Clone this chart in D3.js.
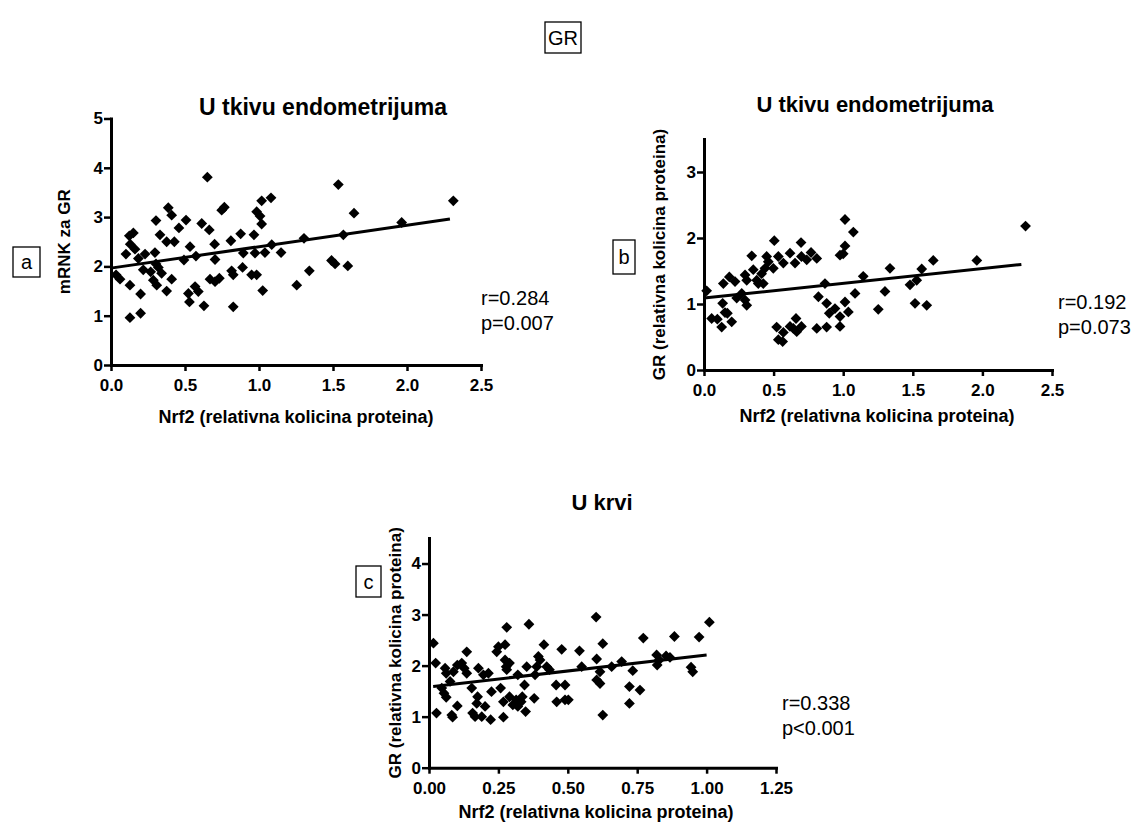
<!DOCTYPE html>
<html>
<head>
<meta charset="utf-8">
<script src="https://cdn.jsdelivr.net/npm/d3@7/dist/d3.min.js"></script>
<style>
  html, body { margin: 0; padding: 0; background: #fff; }
  svg { display: block; }
  text { font-family: "Liberation Sans", Arial, sans-serif; fill: #000; }
</style>
</head>
<body>
<svg id="fig" width="1140" height="823"></svg>
<script>
// Panel a: endometrial tissue, Nrf2 protein vs GR mRNA
const aX = [0.124,0.151,0.304,0.331,0.387,0.41,0.459,0.507,0.376,0.428,0.651,0.613,0.664,0.70,0.748,0.766,0.81,0.876,0.966,0.984,1.007,1.018,1.018,1.081,1.086,0.534,0.13,1.536,1.642,2.313,1.964,1.304,1.57,
  0.034,0.061,0.101,0.162,0.185,0.23,0.297,0.304,0.218,0.268,0.32,0.342,0.286,0.309,0.41,0.376,0.128,0.2,0.128,0.2,0.493,0.574,0.523,0.53,0.568,0.59,0.628,0.703,0.669,0.703,0.732,0.815,0.826,0.826,0.889,0.894,0.95,0.984,0.973,1.025,1.04,1.149,1.255,1.34,1.49,1.514,1.60];
const aY = [2.62,2.68,2.93,2.64,3.19,3.04,2.78,2.94,2.50,2.50,3.81,2.87,2.74,2.45,3.14,3.20,2.52,2.66,2.64,3.11,3.02,2.86,3.33,3.39,2.44,2.40,2.45,3.66,3.08,3.33,2.89,2.57,2.64,
  1.83,1.74,2.25,2.35,2.16,2.25,2.28,2.05,1.93,1.89,1.98,1.86,1.72,1.62,1.74,1.50,1.62,1.44,0.96,1.05,2.13,2.21,1.45,1.28,1.59,1.49,1.20,2.14,1.74,1.69,1.76,1.91,1.83,1.18,1.98,2.27,1.83,1.83,2.27,1.51,2.28,2.28,1.62,1.91,2.12,2.05,2.01];
const aFitX = [0.01, 2.29];
const aFitY = [1.97, 2.96];

// Panel b: endometrial tissue, Nrf2 protein vs GR protein
const bX = [0.343,0.505,0.697,0.618,0.769,0.534,0.45,0.019,0.139,0.182,0.223,0.295,0.307,0.354,0.379,0.39,0.426,0.414,0.438,0.462,0.498,0.57,0.654,0.70,0.738,0.81,
  0.235,0.271,0.295,0.307,0.055,0.096,0.134,0.151,0.127,0.168,0.199,0.522,0.534,0.565,0.57,0.618,0.661,0.666,0.70,0.642,0.81,0.881,0.822,0.881,0.869,
  0.977,1.0,1.144,1.336,1.564,1.647,1.96,1.48,1.528,1.30,1.085,1.013,0.90,0.941,0.977,1.037,0.977,1.252,1.516,1.60,1.013,1.073,1.013,2.31];
const bY = [1.73,1.96,1.93,1.77,1.78,1.72,1.72,1.20,1.31,1.41,1.34,1.44,1.36,1.52,1.36,1.31,1.31,1.46,1.54,1.64,1.54,1.62,1.62,1.72,1.67,1.69,
  1.09,1.16,1.06,0.98,0.78,0.77,1.01,0.87,0.65,0.86,0.73,0.65,0.46,0.43,0.57,0.66,0.78,0.58,0.66,0.63,0.63,0.65,1.11,1.01,1.31,
  1.74,1.76,1.42,1.54,1.53,1.66,1.66,1.29,1.36,1.19,1.16,1.03,0.86,0.93,0.81,0.88,0.66,0.92,1.01,0.98,2.28,2.09,1.88,2.18];
const bFitX = [0.0, 2.28];
const bFitY = [1.09, 1.60];

// Panel c: blood, Nrf2 protein vs GR protein
const cX = [0.28,0.36,0.602,1.01,0.772,0.884,0.973,0.016,0.024,0.027,0.058,0.062,0.046,0.054,0.062,0.076,0.082,0.085,0.088,0.102,0.102,0.118,0.127,0.136,0.136,
  0.154,0.157,0.166,0.175,0.172,0.178,0.19,0.196,0.202,0.214,0.222,0.225,0.244,0.25,0.258,0.268,0.268,0.274,0.274,0.278,0.29,0.28,0.29,0.302,0.314,0.32,0.332,0.336,
  0.344,0.348,0.32,0.352,0.379,0.382,0.388,0.394,0.40,0.414,0.424,0.434,0.458,0.46,0.478,0.49,0.49,0.502,0.542,0.55,0.604,0.626,0.616,0.604,0.616,0.626,
  0.658,0.694,0.722,0.722,0.734,0.76,0.82,0.822,0.829,0.854,0.868,0.944,0.95];
const cY = [2.75,2.81,2.95,2.85,2.54,2.57,2.56,2.44,2.05,1.07,1.95,1.85,1.56,1.46,1.38,1.69,1.03,0.99,1.88,1.21,2.01,2.05,1.95,2.27,1.85,
  1.56,1.07,1.00,1.39,1.26,1.95,1.00,1.82,1.20,1.85,0.94,1.49,2.27,2.37,1.56,1.29,0.99,2.41,2.11,1.98,1.39,1.92,2.05,1.23,1.33,1.20,1.29,1.39,
  1.62,1.10,1.82,1.98,1.36,1.82,1.98,2.18,2.11,2.41,1.98,1.92,1.62,1.29,2.32,1.62,1.33,1.33,2.29,1.98,2.13,2.43,1.88,1.72,1.65,1.03,
  1.98,2.08,1.59,1.26,1.90,1.52,2.21,2.01,2.11,2.19,2.16,1.97,1.88];
const cFitX = [0.015, 1.0];
const cFitY = [1.59, 2.21];

// Tick values and labels
const xTicksEndo = [0, 0.5, 1.0, 1.5, 2.0, 2.5];
const xTicksBlood = [0, 0.25, 0.5, 0.75, 1.0, 1.25];
const yTicksA = [0, 1, 2, 3, 4, 5];
const yTicksB = [0, 1, 2, 3];
const yTicksC = [0, 1, 2, 3, 4];

const titles = ["U tkivu endometrijuma", "U tkivu endometrijuma", "U krvi"];
const xLabel = "Nrf2 (relativna kolicina proteina)";
const yLabels = ["mRNK za GR", "GR (relativna kolicina proteina)", "GR (relativna kolicina proteina)"];
const panelLetters = ["a", "b", "c"];
const stats = [["r=0.284", "p=0.007"], ["r=0.192", "p=0.073"], ["r=0.338", "p<0.001"]];
const figTitle = "GR";

const svg = d3.select("#fig");

function boxLabel(txt, x, y, w, h) {
  svg.append("rect").attr("x", x).attr("y", y).attr("width", w).attr("height", h)
    .attr("fill", "none").attr("stroke", "#000").attr("stroke-width", 1.3);
  svg.append("text").attr("x", x + w / 2).attr("y", y + h / 2).attr("dy", "0.35em")
    .attr("text-anchor", "middle").style("font-size", "20px").text(txt);
}

boxLabel(figTitle, 545, 22, 36, 31);

const diamond = "M0,-5.4L5.4,0L0,5.4L-5.4,0Z";

function drawPanel(p) {
  const x = d3.scaleLinear().domain(p.xDomain).range([p.left, p.right]);
  const y = d3.scaleLinear().domain(p.yDomain).range([p.bottom, p.top]);
  const g = svg.append("g");

  const xAxis = d3.axisBottom(x).tickValues(p.xTicks).tickFormat(d3.format(p.xFmt))
    .tickSizeInner(6).tickSizeOuter(0).tickPadding(8);
  const yAxis = d3.axisLeft(y).tickValues(p.yTicks).tickFormat(d3.format("d"))
    .tickSizeInner(7).tickSizeOuter(0).tickPadding(1);

  const gx = g.append("g").attr("transform", `translate(0,${p.bottom})`).call(xAxis);
  const gy = g.append("g").attr("transform", `translate(${p.left},0)`).call(yAxis);
  [gx, gy].forEach(ax => {
    ax.select(".domain").attr("stroke-width", 3).attr("stroke-linecap", "square");
    ax.selectAll(".tick line").attr("stroke-width", 2.5);
    ax.selectAll(".tick text").style("font-size", "17px").style("font-weight", "bold")
      .attr("fill", "#000").style("font-family", "'Liberation Sans', Arial, sans-serif");
  });

  // regression line
  g.append("line")
    .attr("x1", x(p.fitX[0])).attr("y1", y(p.fitY[0]))
    .attr("x2", x(p.fitX[1])).attr("y2", y(p.fitY[1]))
    .attr("stroke", "#000").attr("stroke-width", 3);

  // data points
  g.selectAll("path.pt").data(d3.range(p.xs.length)).join("path")
    .attr("class", "pt")
    .attr("d", diamond)
    .attr("transform", i => `translate(${x(p.xs[i])},${y(p.ys[i])})`)
    .attr("fill", "#000");

  // titles and labels
  g.append("text").attr("x", p.titleX).attr("y", p.titleY).attr("text-anchor", "middle")
    .style("font-size", p.titleSize + "px").style("font-weight", "bold").text(p.title);
  g.append("text").attr("x", p.xLabelX).attr("y", p.xLabelY).attr("text-anchor", "middle")
    .style("font-size", "18px").style("font-weight", "bold").text(xLabel);
  g.append("text")
    .attr("transform", `translate(${p.yLabelX},${(p.top + p.bottom) / 2}) rotate(-90)`)
    .attr("text-anchor", "middle")
    .style("font-size", "17px").style("font-weight", "bold").text(p.yLabel);

  g.append("text").attr("x", p.statX).attr("y", p.statY).style("font-size", "20px").text(p.stats[0]);
  g.append("text").attr("x", p.statX).attr("y", p.statY + 25).style("font-size", "20px").text(p.stats[1]);

  boxLabel(p.letter, p.box[0], p.box[1], p.box[2], p.box[3]);
}

drawPanel({
  xs: aX, ys: aY, fitX: aFitX, fitY: aFitY,
  xDomain: [0, 2.5], yDomain: [0, 5], left: 111, right: 481, bottom: 365, top: 118.5,
  xTicks: xTicksEndo, yTicks: yTicksA, xFmt: ".1f",
  title: titles[0], titleX: 323, titleY: 115, titleSize: 23,
  xLabelX: 296, xLabelY: 423, yLabel: yLabels[0], yLabelX: 70,
  stats: stats[0], statX: 481, statY: 305, letter: panelLetters[0], box: [13, 247, 27, 30]
});

drawPanel({
  xs: bX, ys: bY, fitX: bFitX, fitY: bFitY,
  xDomain: [0, 2.5], yDomain: [0, 3.5], left: 704, right: 1052, bottom: 370, top: 139,
  xTicks: xTicksEndo, yTicks: yTicksB, xFmt: ".1f",
  title: titles[1], titleX: 875, titleY: 112, titleSize: 22,
  xLabelX: 877, xLabelY: 422, yLabel: yLabels[1], yLabelX: 665,
  stats: stats[1], statX: 1058, statY: 309, letter: panelLetters[1], box: [613, 240, 22, 34]
});

drawPanel({
  xs: cX, ys: cY, fitX: cFitX, fitY: cFitY,
  xDomain: [0, 1.25], yDomain: [0, 4.5], left: 429, right: 776, bottom: 767.7, top: 538,
  xTicks: xTicksBlood, yTicks: yTicksC, xFmt: ".2f",
  title: titles[2], titleX: 602, titleY: 510, titleSize: 22,
  xLabelX: 596, xLabelY: 818, yLabel: yLabels[2], yLabelX: 401,
  stats: stats[2], statX: 782, statY: 710, letter: panelLetters[2], box: [356, 566, 25, 31]
});
</script>
</body>
</html>
